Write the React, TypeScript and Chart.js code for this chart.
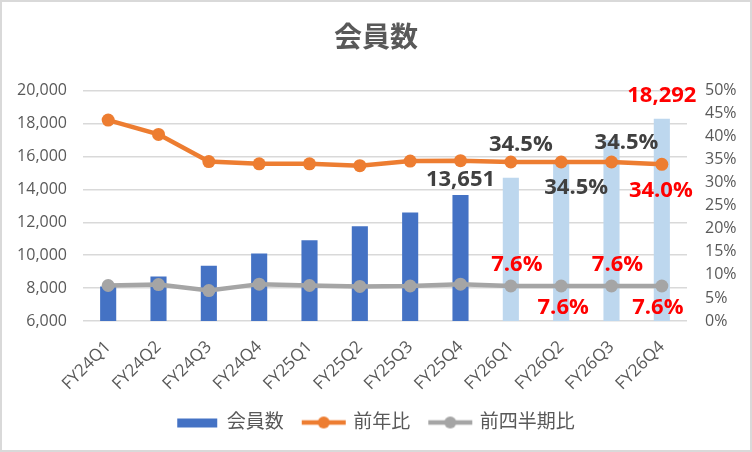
import { useEffect, useRef } from "react"
import { Chart, registerables } from "chart.js"

Chart.register(...registerables)

// 四半期
const quarters = [
  "FY24Q1", "FY24Q2", "FY24Q3", "FY24Q4",
  "FY25Q1", "FY25Q2", "FY25Q3", "FY25Q4",
  "FY26Q1", "FY26Q2", "FY26Q3", "FY26Q4",
]
// 会員数
const members = [8100, 8700, 9350, 10100, 10900, 11750, 12600, 13651, 14700, 15600, 17000, 18292]
// 前年比 (%)
const yoyRate = [43.6, 40.5, 34.6, 34.1, 34.1, 33.7, 34.7, 34.8, 34.5, 34.5, 34.5, 34.0]
// 前四半期比 (%)
const qoqRate = [7.7, 7.9, 6.6, 8.0, 7.7, 7.5, 7.6, 8.0, 7.6, 7.6, 7.6, 7.6]

const BLUE = "#4472C4"
const LIGHT_BLUE = "#BDD7EE"
const ORANGE = "#ED7D31"
const GRAY = "#A5A5A5"
const TEXT = "#595959"
const DARK = "#404040"
const RED = "#FF0000"
const FONT = "'Open Sans', 'Noto Sans CJK JP', sans-serif"

type LabelSpec = { index: number; color: string; offset: number; dx?: number }

const memberLabels: LabelSpec[] = [
  { index: 7, color: DARK, offset: -15 },
  { index: 11, color: RED, offset: -23 },
]
const yoyLabels: LabelSpec[] = [
  { index: 8, color: DARK, offset: -17, dx: 10 },
  { index: 9, color: DARK, offset: 26, dx: 15 },
  { index: 10, color: DARK, offset: -19, dx: 15 },
  { index: 11, color: RED, offset: 26, dx: -1 },
]
const qoqLabels: LabelSpec[] = [
  { index: 8, color: RED, offset: -21, dx: 6 },
  { index: 9, color: RED, offset: 22, dx: 2 },
  { index: 10, color: RED, offset: -21, dx: 6 },
  { index: 11, color: RED, offset: 22, dx: -4 },
]

const fmtNumber = (v: number) => v.toLocaleString("en-US")
const fmtPercent = (v: number) => v.toFixed(1) + "%"

// border + white background
const framePlugin = {
  id: "frame",
  beforeDraw(chart: any) {
    const { ctx, width, height } = chart
    ctx.save()
    ctx.fillStyle = "#fff"
    ctx.fillRect(0, 0, width, height)
    ctx.strokeStyle = "#d9d9d9"
    ctx.lineWidth = 2
    ctx.strokeRect(1, 1, width - 2, height - 2)
    ctx.restore()
  },
}

// data labels drawn from the dataset elements
const valueLabelPlugin = {
  id: "valueLabels",
  afterDatasetsDraw(chart: any) {
    const ctx = chart.ctx
    chart.data.datasets.forEach((ds: any, di: number) => {
      if (!ds.valueLabels) return
      const meta = chart.getDatasetMeta(di)
      ds.valueLabels.forEach((s: LabelSpec) => {
        const el = meta.data[s.index]
        if (!el) return
        ctx.save()
        ctx.font = `bold 22px ${FONT}`
        ctx.fillStyle = s.color
        ctx.textAlign = "center"
        ctx.textBaseline = "middle"
        ctx.fillText(ds.formatLabel(ds.data[s.index]), el.x + (s.dx || 0), el.y + s.offset)
        ctx.restore()
      })
    })
  },
}

function makeSwatch(kind: "bar" | "line", color: string) {
  const c = document.createElement("canvas")
  c.width = 46
  c.height = 14
  const g = c.getContext("2d")!
  g.fillStyle = color
  g.strokeStyle = color
  if (kind === "bar") {
    g.fillRect(3, 3, 40, 9)
  } else {
    g.lineWidth = 4.5
    g.beginPath()
    g.moveTo(1, 7)
    g.lineTo(45, 7)
    g.stroke()
    g.beginPath()
    g.arc(23, 7, 6, 0, Math.PI * 2)
    g.fill()
  }
  return c
}

export default function App() {
  const chartRef = useRef<HTMLCanvasElement>(null)
  const chartInstance = useRef<Chart | null>(null)

  useEffect(() => {
    document.body.style.margin = "0"
    if (!chartRef.current) return

    if (chartInstance.current) {
      chartInstance.current.destroy()
    }

    const ctx = chartRef.current.getContext("2d")
    if (!ctx) return

    Chart.defaults.font.family = FONT

    const swatches = [makeSwatch("bar", BLUE), makeSwatch("line", ORANGE), makeSwatch("line", GRAY)]

    chartInstance.current = new Chart(ctx, {
      type: "bar",
      data: {
        labels: quarters,
        datasets: [
          {
            type: "bar",
            label: "会員数",
            data: members,
            backgroundColor: quarters.map((q) => (q.startsWith("FY26") ? LIGHT_BLUE : BLUE)),
            categoryPercentage: 1,
            barPercentage: 0.32,
            yAxisID: "y",
            order: 3,
            valueLabels: memberLabels,
            formatLabel: fmtNumber,
          } as any,
          {
            type: "line",
            label: "前年比",
            data: yoyRate,
            borderColor: ORANGE,
            backgroundColor: ORANGE,
            borderWidth: 4.5,
            pointRadius: 6.5,
            pointBorderWidth: 0,
            pointBackgroundColor: ORANGE,
            tension: 0,
            yAxisID: "y1",
            order: 1,
            valueLabels: yoyLabels,
            formatLabel: fmtPercent,
          } as any,
          {
            type: "line",
            label: "前四半期比",
            data: qoqRate,
            borderColor: GRAY,
            backgroundColor: GRAY,
            borderWidth: 4.5,
            pointRadius: 6.5,
            pointBorderWidth: 0,
            pointBackgroundColor: GRAY,
            tension: 0,
            yAxisID: "y1",
            order: 2,
            valueLabels: qoqLabels,
            formatLabel: fmtPercent,
          } as any,
        ],
      },
      options: {
        responsive: false,
        animation: false,
        layout: { padding: { left: 0, right: 0, top: 0, bottom: 10 } },
        plugins: {
          title: {
            display: true,
            text: "会員数",
            color: TEXT,
            font: { size: 28, weight: "bold" },
            padding: { top: 22, bottom: 35 },
          },
          legend: {
            position: "bottom",
            labels: {
              color: TEXT,
              font: { size: 19 },
              usePointStyle: true,
              pointStyleWidth: 40,
              padding: 20,
              generateLabels: (chart: any) =>
                chart.data.datasets.map((ds: any, i: number) => ({
                  text: ds.label,
                  pointStyle: swatches[i],
                  fillStyle: "transparent",
                  strokeStyle: "transparent",
                  lineWidth: 0,
                  fontColor: TEXT,
                  hidden: false,
                  datasetIndex: i,
                })),
            },
          },
          tooltip: { enabled: false },
        },
        scales: {
          x: {
            offset: true,
            grid: { display: false },
            border: { display: false },
            ticks: {
              color: TEXT,
              font: { size: 17 },
              minRotation: 45,
              maxRotation: 45,
              padding: 8,
            },
            afterFit: (scale: any) => {
              scale.height = 72
            },
          },
          y: {
            position: "left",
            min: 6000,
            max: 20000,
            grid: { color: "#d9d9d9", lineWidth: 1.5, drawTicks: false },
            border: { display: false },
            ticks: {
              stepSize: 2000,
              color: TEXT,
              font: { size: 16 },
              padding: 16,
              callback: (v: any) => Number(v).toLocaleString("en-US"),
            },
            afterFit: (scale: any) => {
              scale.width = 83
            },
          },
          y1: {
            position: "right",
            min: 0,
            max: 50,
            grid: { display: false, drawTicks: false },
            border: { display: false },
            ticks: {
              stepSize: 5,
              color: TEXT,
              font: { size: 16 },
              padding: 18,
              callback: (v: any) => v + "%",
            },
            afterFit: (scale: any) => {
              scale.width = 65
            },
          },
        },
      } as any,
      plugins: [framePlugin, valueLabelPlugin],
    })

    return () => {
      if (chartInstance.current) {
        chartInstance.current.destroy()
        chartInstance.current = null
      }
    }
  }, [])

  return (
    <div style={{ width: 752, height: 452 }}>
      <canvas ref={chartRef} width={752} height={452} />
    </div>
  )
}
